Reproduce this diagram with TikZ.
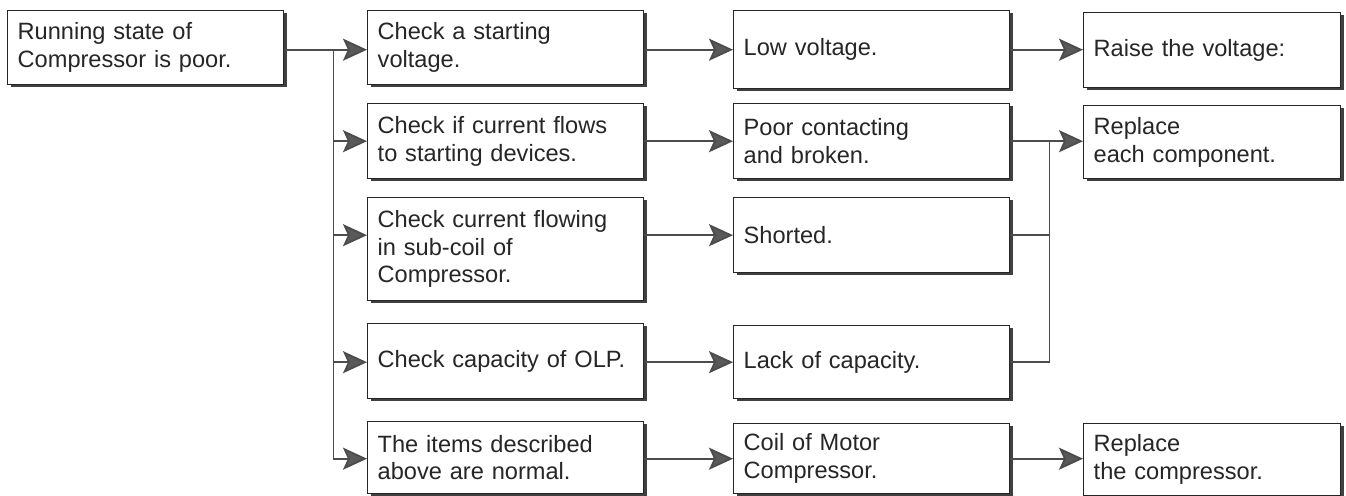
\documentclass[tikz,border=0pt]{standalone}
\usepackage{fontspec}
\setmainfont{Liberation Sans}
\usetikzlibrary{positioning,calc,arrows.meta,shadows}

\begin{document}
\begin{tikzpicture}
	[   x=0.5pt,y=-0.5pt,
		box/.style={draw=black!85,fill=white,line width=0.7pt,anchor=north west,inner xsep=5pt,inner ysep=0pt,text width=128pt,minimum height=#1,align=left,font=\fontsize{11.8}{13.8}\selectfont,text=black!85,drop shadow={shadow xshift=1.4pt,shadow yshift=-1.4pt,fill=black!75,opacity=1}},
		wbox/.style={box=#1,text width=118.5pt},
	]
	\tikzset{normal arrow/.style={draw=black!70,line width=0.9pt,-{Stealth[length=12pt,width=11pt,inset=2.5pt,fill=black!65]}},
		normal line/.style={draw=black!70,line width=0.9pt}}
	\useasboundingbox (0,0) rectangle (1346,496);
	
	\node[box=37pt] (run) at (7,10) {Running state of\\Compressor is poor.};
	
	% checks
	\node[box=37pt] (chk-1) at (367,10) {Check a starting\\voltage.};
	\node[box=37.5pt] (chk-2) at (367,103) {Check if current flows\\to starting devices.};
	\node[box=51.5pt] (chk-3) at (367,197) {Check current flowing\\in sub-coil of\\Compressor.};
	\node[box=37.5pt] (chk-4) at (367,323) {Check capacity of OLP.};
	\node[box=36pt] (chk-5) at (367,421) {The items described\\above are normal.};
	
	% results
	\node[box=39pt] (res-1) at (733,10) {Low voltage.};
	\node[box=37.5pt] (res-2) at (733,103) {Poor contacting\\and broken.};
	\node[box=37.5pt] (res-3) at (733,197) {Shorted.};
	\node[box=36.5pt] (res-4) at (733,325) {Lack of capacity.};
	\node[box=35pt] (res-5) at (733,423) {Coil of Motor\\Compressor.};
	
	% remedies
	\node[wbox=37.5pt] (fix-1) at (1083,12) {Raise the voltage:};
	\node[wbox=36.5pt] (fix-2) at (1083,105) {Replace\\each component.};
	\node[wbox=36pt] (fix-5) at (1083,423) {Replace\\the compressor.};
	
	\coordinate (t) at ($(run.east |- res-1.west)+(49,0)$);
	\draw[normal line] (run.east |- res-1.west) -- (t) -- (t |- res-5.west);
	\foreach \i in {1,...,5}
	{
		\path[normal arrow] (t |- res-\i.west) -- (chk-\i.west |- res-\i.west);
		\path[normal arrow] (chk-\i.east |- res-\i.west) -- (res-\i.west);
	}
	
	\coordinate (j) at ($(res-2.east)+(39,0)$);
	\path[normal arrow] (res-1.east) -- (fix-1.west |- res-1.east);
	\path[normal arrow] (res-2.east) -- (fix-2.west |- res-2.east);
	\draw[normal line] (res-3.east) -- (j |- res-3.east);
	\draw[normal line] (res-4.east) -| (j);
	\path[normal arrow] (res-5.east) -- (fix-5.west |- res-5.east);
\end{tikzpicture}
\end{document}
